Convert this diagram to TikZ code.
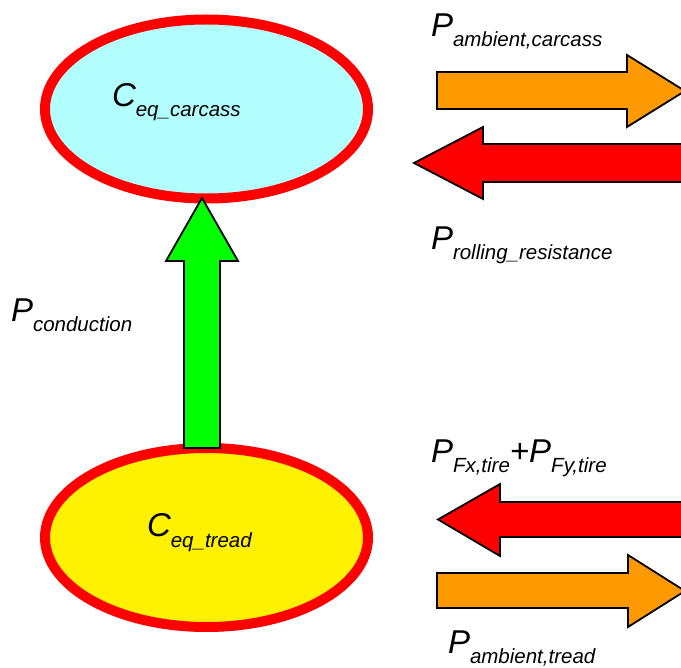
\documentclass[tikz,border=0pt]{standalone}
\usepackage{fontspec}
\setmainfont{Liberation Sans}
\usetikzlibrary{shapes.geometric}
\definecolor{cyanfill}{RGB}{179,255,255}
\definecolor{orangefill}{RGB}{255,153,0}
\definecolor{greenfill}{RGB}{0,255,0}
\newcommand{\biglbl}[1]{{\fontsize{33}{33}\selectfont\itshape #1}}
\newcommand{\lbl}[2]{\biglbl{#1}\raisebox{-10pt}{\fontsize{20.5}{20.5}\selectfont\itshape #2}}
\begin{document}
\begin{tikzpicture}[x=1pt,y=-1pt,
  capnode/.style={ellipse, draw=red, line width=10pt, minimum width=323pt, minimum height=179pt, inner sep=0pt},
  arr/.style={draw=black, line width=1.8pt, line join=miter},
  lab/.style={anchor=base west, inner sep=0pt, outer sep=0pt}]
\useasboundingbox (0,0) rectangle (681,668);
\clip (0,0) rectangle (681,668);
% capacities
\node[capnode, fill=cyanfill] (carcass) at (206.5,109) {};
\node[capnode, fill=yellow] (tread) at (206.5,537.5) {};
\node[lab] (ccar) at (112,107) {\lbl{C}{eq\_carcass}};
\node[lab] (ctre) at (147,537) {\lbl{C}{eq\_tread}};
% conduction arrow
\draw[arr, fill=greenfill] (202,198) -- (238,261) -- (220,261) -- (220,448) -- (184,448) -- (184,261) -- (166,261) -- cycle;
\node[lab] (pcond) at (11,322) {\lbl{P}{conduction}};
% top arrows
\draw[arr, fill=orangefill] (437,72) -- (627,72) -- (627,55) -- (685,91) -- (627,127) -- (627,109) -- (437,109) -- cycle;
\draw[arr, fill=red] (700,144) -- (483,144) -- (483,127) -- (414,163) -- (483,199) -- (483,182) -- (700,182) -- cycle;
\node[lab] (pamc) at (431,37) {\lbl{P}{ambient,carcass}};
\node[lab] (proll) at (431,250) {\lbl{P}{rolling\_resistance}};
% bottom arrows
\draw[arr, fill=red] (700,502) -- (500,502) -- (500,484) -- (438,519.5) -- (500,556) -- (500,537) -- (700,537) -- cycle;
\draw[arr, fill=orangefill] (437,573) -- (628,573) -- (628,555) -- (685,591) -- (628,627) -- (628,608) -- (437,608) -- cycle;
\node[lab] (pfx) at (431,463) {\lbl{P}{Fx,tire}\biglbl{+}\lbl{P}{Fy,tire}};
\node[lab] (pamt) at (448,653) {\lbl{P}{ambient,tread}};
\end{tikzpicture}
\end{document}
